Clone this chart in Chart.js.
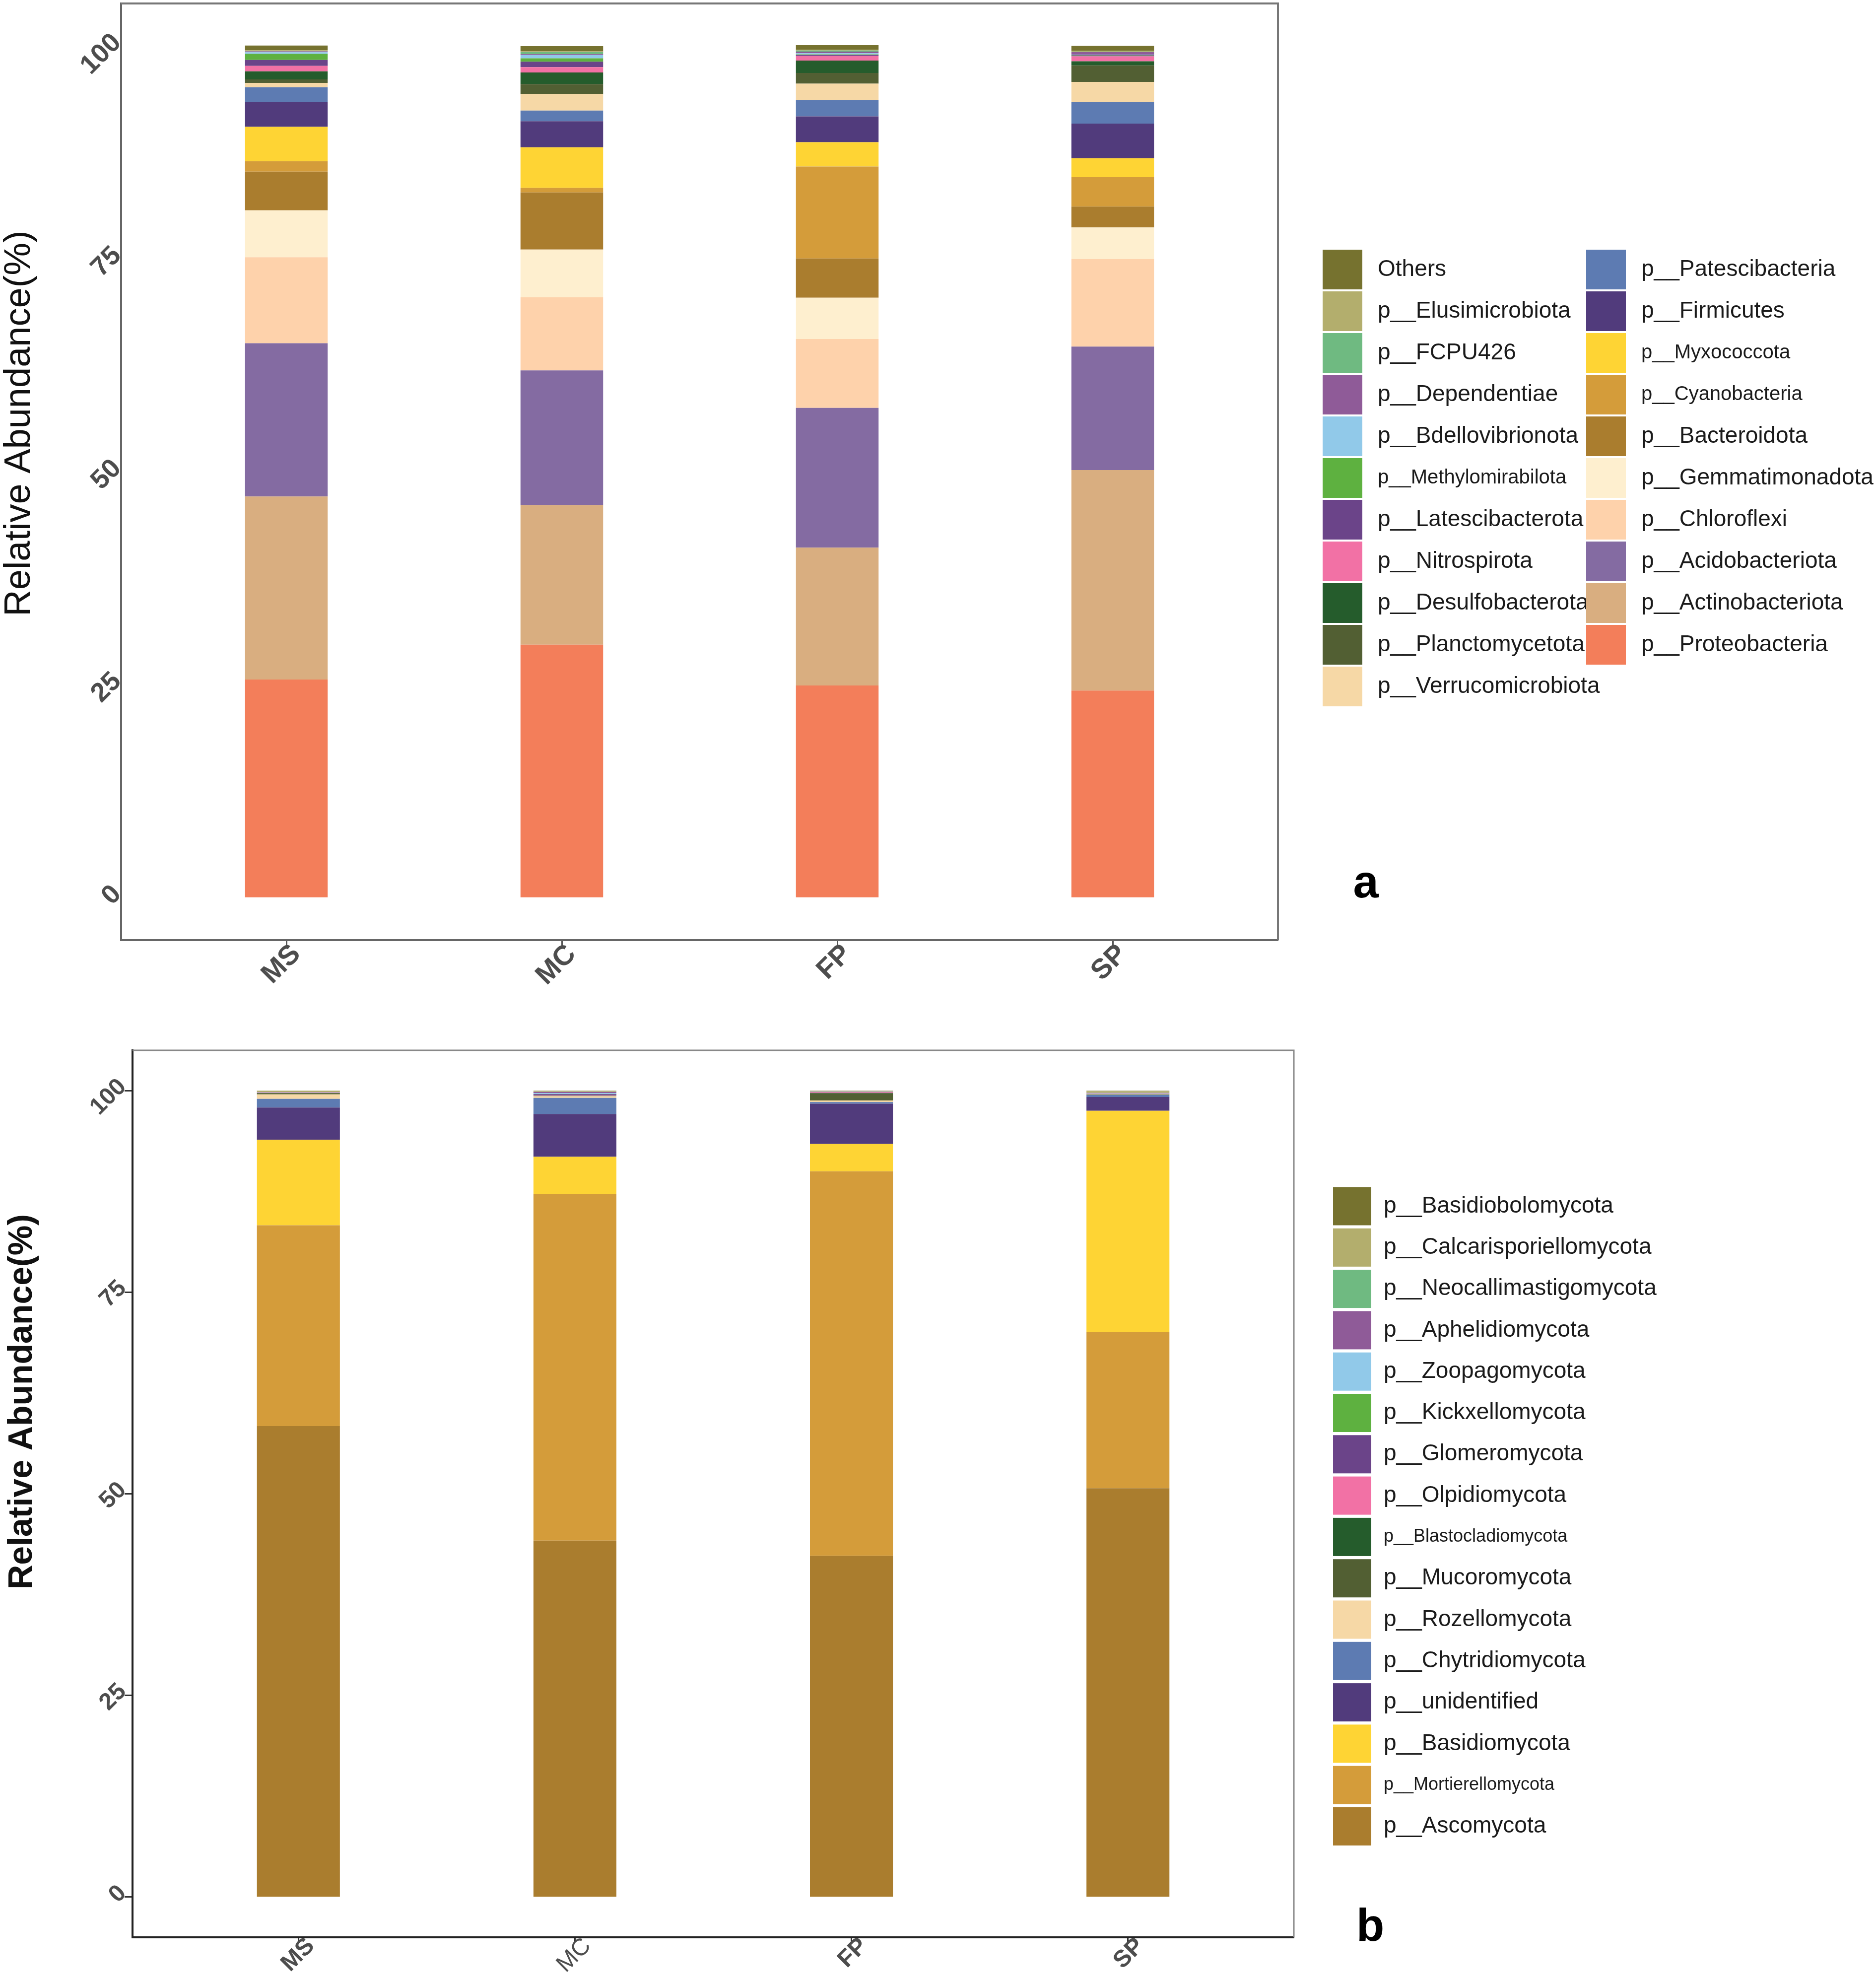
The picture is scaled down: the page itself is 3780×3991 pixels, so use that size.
<!DOCTYPE html>
<html lang="en">
<head>
<meta charset="UTF-8">
<title>Relative abundance of bacterial and fungal phyla</title>
<script src="https://cdn.jsdelivr.net/npm/chart.js@4"></script>
<style>
  html, body { margin: 0; padding: 0; background: #fff; }
  body { width: 3780px; height: 3991px; position: relative; overflow: hidden; }
  canvas { position: absolute; left: 0; }
  #chartA { top: 0; }
  #chartB { top: 2060px; }
</style>
</head>
<body>
<canvas id="chartA" width="3780" height="2060"></canvas>
<canvas id="chartB" width="3780" height="1931"></canvas>
<script>
// ---- data (stacks listed from the bottom of the bar upwards) ----
const samples = ['MS', 'MC', 'FP', 'SP'];
const yTicks = [0, 25, 50, 75, 100];

const bacteriaPhyla = [
  'p__Proteobacteria', 'p__Actinobacteriota', 'p__Acidobacteriota', 'p__Chloroflexi',
  'p__Gemmatimonadota', 'p__Bacteroidota', 'p__Cyanobacteria', 'p__Myxococcota',
  'p__Firmicutes', 'p__Patescibacteria', 'p__Verrucomicrobiota', 'p__Planctomycetota',
  'p__Desulfobacterota', 'p__Nitrospirota', 'p__Latescibacterota', 'p__Methylomirabilota',
  'p__Bdellovibrionota', 'p__Dependentiae', 'p__FCPU426', 'p__Elusimicrobiota', 'Others'
];
const bacteriaMS = [25.6, 21.5, 18.0, 10.1, 5.5, 4.55, 1.22, 4.05, 2.9, 1.74, 0.52, 0.4, 0.95, 0.64, 0.7, 0.72, 0.18, 0.1, 0.04, 0.1, 0.55];
const bacteriaMC = [29.7, 16.4, 15.8, 8.6, 5.6, 6.7, 0.54, 4.77, 3.06, 1.26, 1.94, 1.16, 1.36, 0.64, 0.64, 0.39, 0.39, 0.1, 0.23, 0.1, 0.6];
const bacteriaFP = [24.9, 16.2, 16.4, 8.1, 4.85, 4.6, 10.8, 2.85, 3.04, 1.94, 1.9, 1.26, 1.45, 0.54, 0.14, 0.05, 0.14, 0.19, 0.12, 0.1, 0.54];
const bacteriaSP = [24.3, 25.9, 14.5, 10.3, 3.7, 2.45, 3.45, 2.23, 4.07, 2.52, 2.37, 1.94, 0.48, 0.58, 0.1, 0.05, 0.05, 0.29, 0.05, 0.1, 0.58];

const fungiPhyla = [
  'p__Ascomycota', 'p__Mortierellomycota', 'p__Basidiomycota', 'p__unidentified',
  'p__Chytridiomycota', 'p__Rozellomycota', 'p__Mucoromycota', 'p__Blastocladiomycota',
  'p__Olpidiomycota', 'p__Glomeromycota', 'p__Kickxellomycota', 'p__Zoopagomycota',
  'p__Aphelidiomycota', 'p__Neocallimastigomycota', 'p__Calcarisporiellomycota', 'p__Basidiobolomycota'
];
const fungiMS = [58.4, 24.9, 10.6, 4.0, 1.09, 0.55, 0.15, 0.02, 0.02, 0.02, 0.02, 0.02, 0.02, 0.02, 0.15, 0.02];
const fungiMC = [44.2, 43.0, 4.6, 5.3, 2.0, 0.2, 0.05, 0.02, 0.05, 0.15, 0.02, 0.1, 0.15, 0.02, 0.1, 0.02];
const fungiFP = [42.3, 47.7, 3.38, 5.0, 0.2, 0.2, 0.86, 0.05, 0.1, 0.02, 0.02, 0.02, 0.02, 0.02, 0.05, 0.05];
const fungiSP = [50.7, 19.4, 27.4, 1.72, 0.25, 0.05, 0.05, 0.02, 0.02, 0.02, 0.02, 0.02, 0.05, 0.02, 0.2, 0.05];

// ---- styling ----
const palette = [
  '#f37e5a', '#d9ae80', '#846ba2', '#fed2ab', '#feefcf', '#aa7d2e', '#d49c3a',
  '#fed434', '#513b7c', '#5d7bb2', '#f6d8a6', '#525f33', '#255c2c', '#f271a5',
  '#6b4489', '#5eb140', '#91c9e9', '#8f5b98', '#6fba81', '#b3ae6d', '#76722f'
];
const FONT = "'Liberation Sans', Arial, sans-serif";
const smallLabels = ['p__Methylomirabilota', 'p__Myxococcota', 'p__Cyanobacteria',
                     'p__Blastocladiomycota', 'p__Mortierellomycota'];

function buildDatasets(names, colors, perSample) {
  return names.map((name, k) => ({
    label: name,
    data: perSample.map((vals, i) => ({ x: i + 1, y: vals[k] })),
    backgroundColor: colors[k],
    borderWidth: 0,
    categoryPercentage: 0.3,
    barPercentage: 1.0
  }));
}

// frame, axis title, panel letter and legend
const decor = {
  id: 'decor',
  afterDraw(chart, args, o) {
    const ctx = chart.ctx, a = chart.chartArea;
    ctx.save();
    ctx.strokeStyle = o.frameColor;
    ctx.lineWidth = o.frameWidth;
    ctx.beginPath();
    ctx.moveTo(a.left, a.top);
    ctx.lineTo(a.right, a.top);
    ctx.lineTo(a.right, a.bottom);
    ctx.stroke();

    ctx.fillStyle = '#111';
    ctx.font = o.titleFont;
    ctx.textAlign = 'center';
    ctx.textBaseline = 'middle';
    ctx.save();
    ctx.translate(o.titleX, o.titleY);
    ctx.rotate(-Math.PI / 2);
    ctx.fillText(o.title, 0, 0);
    ctx.restore();

    ctx.font = 'bold 92px ' + FONT;
    ctx.textBaseline = 'alphabetic';
    ctx.fillStyle = '#000';
    ctx.fillText(o.letter, o.letterX, o.letterY);

    const L = o.legend;
    const items = chart.data.datasets.slice().reverse();
    items.forEach((ds, i) => {
      const col = Math.floor(i / L.rows), row = i % L.rows;
      const x = L.x + col * L.colGap, y = L.y + row * L.rowGap;
      ctx.fillStyle = ds.backgroundColor;
      ctx.fillRect(x, y - L.box / 2, L.box, L.box);
      ctx.fillStyle = '#1a1a1a';
      ctx.font = (smallLabels.includes(ds.label) ? L.small : L.size) + 'px ' + FONT;
      ctx.textAlign = 'left';
      ctx.textBaseline = 'middle';
      ctx.fillText(ds.label, x + L.textOffset, y);
    });
    ctx.restore();
  }
};

function axes(c) {
  return {
    x: {
      type: 'linear', min: 0.4, max: 4.6, stacked: true, offset: false,
      afterBuildTicks: s => { s.ticks = samples.map((_, i) => ({ value: i + 1 })); },
      afterFit: s => { s.height = c.xHeight; s.paddingLeft = 0; s.paddingRight = 0; },
      ticks: {
        autoSkip: false, minRotation: 45, maxRotation: 45, padding: c.xPad,
        labelOffset: c.xShift, color: '#4d4d4d', font: c.xFont,
        callback: v => samples[v - 1]
      },
      grid: { display: true, offset: false, drawOnChartArea: false, drawTicks: true,
              tickLength: c.xTick, tickColor: c.tickColor, tickWidth: 3 },
      border: { display: true, color: c.axisColor, width: 4 }
    },
    y: {
      min: -5, max: 105, stacked: true,
      afterBuildTicks: s => { s.ticks = yTicks.map(v => ({ value: v })); },
      afterFit: s => { s.width = c.yWidth; s.paddingTop = 0; s.paddingBottom = 0; },
      ticks: { minRotation: 45, maxRotation: 45, padding: c.yPad, labelOffset: -15,
               color: '#4d4d4d', font: c.yFont },
      grid: { display: true, offset: false, drawOnChartArea: false, drawTicks: c.yTick > 0,
              tickLength: c.yTick, tickColor: c.tickColor, tickWidth: 3 },
      border: { display: true, color: c.axisColor, width: 4 }
    }
  };
}

function baseOptions(padding, scales, decorOpts) {
  return {
    responsive: false,
    animation: false,
    devicePixelRatio: 1,
    layout: { padding: padding, autoPadding: false },
    scales: scales,
    plugins: { legend: { display: false }, tooltip: { enabled: false }, decor: decorOpts }
  };
}

// ---- panel a: bacteria ----
new Chart(document.getElementById('chartA'), {
  type: 'bar',
  data: { datasets: buildDatasets(bacteriaPhyla, palette, [bacteriaMS, bacteriaMC, bacteriaFP, bacteriaSP]) },
  options: baseOptions(
    { left: 0, top: 7, right: 1205, bottom: 0 },
    axes({
      xHeight: 166, yWidth: 244, xPad: -16, yPad: 8, xTick: 12, yTick: 0, xShift: 20,
      tickColor: '#555', axisColor: '#666',
      xFont: { family: FONT, size: 56, weight: 'bold' },
      yFont: { family: FONT, size: 54, weight: 'bold' }
    }),
    {
      frameColor: '#777', frameWidth: 4,
      title: 'Relative Abundance(%)', titleFont: '74px ' + FONT, titleX: 40, titleY: 853,
      letter: 'a', letterX: 2752, letterY: 1808,
      legend: { x: 2665, y: 543, rows: 11, colGap: 531, rowGap: 84, box: 80,
                textOffset: 111, size: 46, small: 40 }
    }
  ),
  plugins: [decor]
});

// ---- panel b: fungi ----
new Chart(document.getElementById('chartB'), {
  type: 'bar',
  data: { datasets: buildDatasets(fungiPhyla, palette.slice(5), [fungiMS, fungiMC, fungiFP, fungiSP]) },
  options: baseOptions(
    { left: 0, top: 56, right: 1173, bottom: 0 },
    axes({
      xHeight: 88, yWidth: 267, xPad: -20, yPad: 4, xTick: 10, yTick: 16, xShift: 25,
      tickColor: '#333', axisColor: '#222',
      xFont: ctx => ({ family: FONT, size: 48, weight: ctx.index === 1 ? 'normal' : 'bold' }),
      yFont: { family: FONT, size: 48, weight: 'bold' }
    }),
    {
      frameColor: '#888', frameWidth: 3,
      title: 'Relative Abundance(%)', titleFont: 'bold 68px ' + FONT, titleX: 45, titleY: 764,
      letter: 'b', letterX: 2761, letterY: 1850,
      legend: { x: 2686, y: 370, rows: 16, colGap: 0, rowGap: 83.3, box: 77,
                textOffset: 102, size: 46, small: 36 }
    }
  ),
  plugins: [decor]
});
</script>
</body>
</html>
